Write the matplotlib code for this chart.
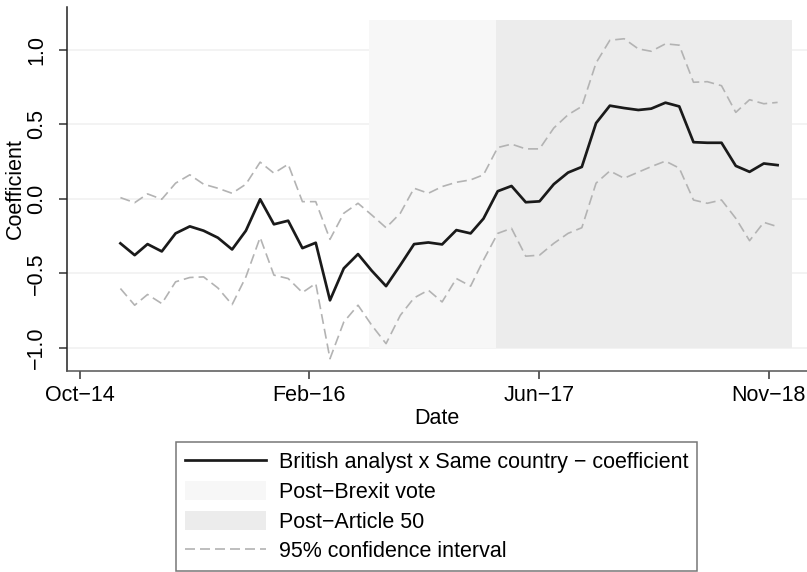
import pandas as pd
import matplotlib
matplotlib.use("Agg")
import matplotlib.pyplot as plt
from matplotlib.lines import Line2D
from matplotlib.patches import Patch

plt.rcParams['font.family'] = ['Liberation Sans', 'DejaVu Sans']

# monthly estimates, Jan 2015 - Dec 2018
dates = pd.date_range('2015-01-01', periods=48, freq='MS')

coef = [-0.298, -0.377, -0.303, -0.352, -0.231, -0.184, -0.213, -0.260, -0.339, -0.213,
        -0.002, -0.170, -0.146, -0.330, -0.294, -0.680, -0.466, -0.370, -0.482, -0.585,
        -0.444, -0.303, -0.292, -0.305, -0.209, -0.231, -0.132, 0.052, 0.087, -0.022,
        -0.016, 0.099, 0.177, 0.215, 0.509, 0.626, 0.610, 0.597, 0.606, 0.646,
        0.621, 0.381, 0.377, 0.377, 0.222, 0.182, 0.238, 0.227]

upper = [0.009, -0.025, 0.034, -0.002, 0.106, 0.162, 0.099, 0.072, 0.038, 0.099,
         0.247, 0.173, 0.233, -0.018, -0.018, -0.271, -0.096, -0.029, -0.108, -0.193,
         -0.096, 0.072, 0.038, 0.083, 0.112, 0.128, 0.162, 0.345, 0.368, 0.336,
         0.336, 0.476, 0.565, 0.621, 0.913, 1.065, 1.075, 1.007, 0.991, 1.041,
         1.032, 0.783, 0.787, 0.760, 0.581, 0.666, 0.639, 0.648]

lower = [-0.601, -0.713, -0.641, -0.702, -0.556, -0.527, -0.523, -0.597, -0.709, -0.523,
         -0.258, -0.511, -0.534, -0.628, -0.567, -1.072, -0.826, -0.713, -0.848, -0.971,
         -0.781, -0.664, -0.612, -0.691, -0.534, -0.585, -0.410, -0.231, -0.197, -0.384,
         -0.377, -0.298, -0.231, -0.193, 0.106, 0.188, 0.139, 0.180, 0.217, 0.254,
         0.207, -0.007, -0.029, -0.007, -0.130, -0.280, -0.157, -0.186]

# event periods
brexit_vote = pd.Timestamp('2016-06-24')
article_50 = pd.Timestamp('2017-03-29')
period_end = pd.Timestamp('2019-01-01')
shade_low, shade_high = -1.0, 1.2

tick_dates = pd.to_datetime(['2014-10-04', '2016-02-16', '2017-06-30', '2018-11-12'])
tick_labels = ['Oct\u221214', 'Feb\u221216', 'Jun\u221217', 'Nov\u221218']
y_ticks = [-1.0, -0.5, 0.0, 0.5, 1.0]

fs = 15.5

fig = plt.figure(figsize=(8.07, 5.72), dpi=100)
ax = fig.add_axes([0.0826, 0.351, 0.9174, 0.637])

ax.set_axisbelow(True)
ax.yaxis.grid(True, color='#f1f1f1', lw=1.2, zorder=0)

ax.fill_between([brexit_vote, article_50], shade_low, shade_high, color='#f7f7f7', lw=0, zorder=1)
ax.fill_between([article_50, period_end], shade_low, shade_high, color='#ececec', lw=0, zorder=1)

ax.plot(dates, upper, color='#b3b3b3', lw=1.2, dashes=(6, 3), zorder=2)
ax.plot(dates, lower, color='#b3b3b3', lw=1.2, dashes=(6, 3), zorder=2)
ax.plot(dates, coef, color='#1a1a1a', lw=1.95, zorder=3)

ax.set_xlim(pd.Timestamp('2014-09-06'), pd.Timestamp('2019-02-03'))
ax.set_ylim(-1.156, 1.289)

ax.set_xticks(tick_dates)
ax.set_xticklabels(tick_labels)
ax.set_yticks(y_ticks)
ax.set_yticklabels([f'{v:.1f}'.replace('-', '\u2212') for v in y_ticks],
                   rotation=90, va='center')

ax.tick_params(axis='both', labelsize=fs, length=6, width=1.1, color='#333333')
ax.tick_params(axis='y', pad=8)
ax.tick_params(axis='x', pad=4)

for side in ['top', 'right']:
    ax.spines[side].set_visible(False)
ax.spines['left'].set_color('#222222')
ax.spines['bottom'].set_color('#555555')
ax.spines['left'].set_linewidth(1.1)
ax.spines['bottom'].set_linewidth(1.1)

ax.set_xlabel('Date', fontsize=fs, labelpad=1)
ax.set_ylabel('Coefficient', fontsize=fs, labelpad=0)

handles = [
    Line2D([], [], color='#1a1a1a', lw=1.95),
    Patch(facecolor='#f7f7f7', edgecolor='none'),
    Patch(facecolor='#ececec', edgecolor='none'),
    Line2D([], [], color='#b3b3b3', lw=1.2, dashes=(6, 3)),
]
labels = ['British analyst x Same country \u2212 coefficient',
          'Post\u2212Brexit vote',
          'Post\u2212Article 50',
          '95% confidence interval']

leg = fig.legend(handles, labels, loc='upper center', bbox_to_anchor=(0.541, 1 - 442 / 572),
                 fontsize=fs, frameon=True, fancybox=False, borderaxespad=0,
                 handlelength=3.75, handleheight=1.0, handletextpad=0.6,
                 labelspacing=0.36, borderpad=0.42)
leg.get_frame().set_edgecolor('#555555')
leg.get_frame().set_linewidth(1.1)

fig.savefig('out.png', dpi=100)
